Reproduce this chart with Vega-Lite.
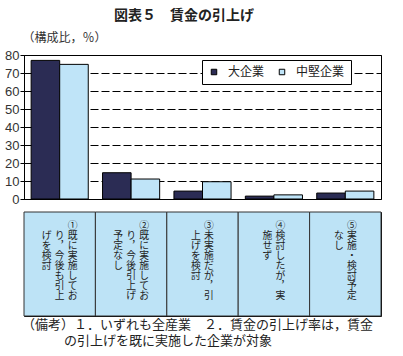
{
  "$schema": "https://vega.github.io/schema/vega-lite/v6.json",
  "padding": {"left": 4, "top": 8, "right": 5, "bottom": 5},
  "background": "white",
  "title": {"text": "図表５　賃金の引上げ", "font": "Noto Sans CJK JP", "fontSize": 14, "fontWeight": "bold", "color": "#222", "anchor": "middle", "dx": -9, "offset": 8},
  "config": {"view": {"stroke": "black", "strokeWidth": 1}, "font": "Noto Sans CJK JP"},
  "spacing": 4,
  "vconcat": [
    {
      "width": 357,
      "height": 144,
      "data": {"values": [
        {"cat": "1", "size": "大企業", "value": 77},
        {"cat": "1", "size": "中堅企業", "value": 74.8},
        {"cat": "2", "size": "大企業", "value": 14.6},
        {"cat": "2", "size": "中堅企業", "value": 11.1},
        {"cat": "3", "size": "大企業", "value": 4.4},
        {"cat": "3", "size": "中堅企業", "value": 9.6},
        {"cat": "4", "size": "大企業", "value": 1.6},
        {"cat": "4", "size": "中堅企業", "value": 2.3},
        {"cat": "5", "size": "大企業", "value": 3.3},
        {"cat": "5", "size": "中堅企業", "value": 4.4}
      ]},
      "mark": {"type": "bar", "stroke": "black", "strokeWidth": 1},
      "encoding": {
        "x": {"field": "cat", "type": "nominal", "scale": {"paddingInner": 0.2, "paddingOuter": 0.1}, "axis": null},
        "xOffset": {"field": "size", "type": "nominal", "sort": ["大企業", "中堅企業"], "scale": {"paddingInner": 0, "paddingOuter": 0}},
        "y": {
          "field": "value", "type": "quantitative",
          "scale": {"domain": [0, 80]},
          "axis": {
            "values": [0, 10, 20, 30, 40, 50, 60, 70, 80],
            "grid": true, "gridDash": [8, 3], "gridColor": "black", "gridWidth": 1,
            "domain": true, "domainColor": "black",
            "ticks": true, "tickSize": 4, "tickColor": "black",
            "labelFont": "Liberation Sans", "labelFontSize": 13, "labelColor": "#333", "labelPadding": 1,
            "title": "（構成比，％）", "titleAngle": 0, "titleAlign": "left", "titleBaseline": "middle",
            "titleX": -2, "titleY": -18, "titleFont": "Noto Sans CJK JP", "titleFontSize": 12,
            "titleFontWeight": "normal", "titleColor": "#333"
          }
        },
        "color": {
          "field": "size", "type": "nominal",
          "scale": {"domain": ["大企業", "中堅企業"], "range": ["#2b2c54", "#bfe4f8"]},
          "legend": {
            "orient": "none", "legendX": 178, "legendY": 5, "direction": "horizontal", "title": null,
            "fillColor": "white", "strokeColor": "black", "padding": 6,
            "symbolType": "square", "symbolSize": 30, "symbolStrokeColor": "black", "symbolStrokeWidth": 1,
            "labelFont": "Noto Sans CJK JP", "labelFontSize": 12, "labelColor": "#222", "labelOffset": 8,
            "columnPadding": 11
          }
        }
      }
    },
    {
      "width": 357,
      "height": 104,
      "title": {
        "text": ["（備考）１．いずれも全産業　２．賃金の引上げ率は，賃金", "\u200b　　　 の引上げを既に実施した企業が対象"],
        "orient": "bottom", "anchor": "start", "frame": "group", "dx": -2, "offset": 2,
        "fontSize": 13, "fontWeight": "normal", "lineHeight": 16, "font": "Noto Sans CJK JP", "color": "#222"
      },
      "layer": [
        {
          "data": {"values": [{"cat": "1"}, {"cat": "2"}, {"cat": "3"}, {"cat": "4"}, {"cat": "5"}]},
          "mark": {"type": "rect", "fill": "#bde3f6", "stroke": "#333", "strokeWidth": 1},
          "encoding": {
            "x": {"field": "cat", "type": "nominal", "scale": {"paddingInner": 0, "paddingOuter": 0}, "axis": null}
          }
        },
        {
          "data": {"values": [
            {"cat": "1", "col": 1, "row": 1, "ch": "①"},
            {"cat": "1", "col": 1, "row": 2, "ch": "既"},
            {"cat": "1", "col": 1, "row": 3, "ch": "に"},
            {"cat": "1", "col": 1, "row": 4, "ch": "実"},
            {"cat": "1", "col": 1, "row": 5, "ch": "施"},
            {"cat": "1", "col": 1, "row": 6, "ch": "し"},
            {"cat": "1", "col": 1, "row": 7, "ch": "て"},
            {"cat": "1", "col": 1, "row": 8, "ch": "お"},
            {"cat": "1", "col": 2, "row": 2, "ch": "り"},
            {"cat": "1", "col": 2, "row": 3, "ch": "︐"},
            {"cat": "1", "col": 2, "row": 4, "ch": "今"},
            {"cat": "1", "col": 2, "row": 5, "ch": "後"},
            {"cat": "1", "col": 2, "row": 6, "ch": "も"},
            {"cat": "1", "col": 2, "row": 7, "ch": "引"},
            {"cat": "1", "col": 2, "row": 8, "ch": "上"},
            {"cat": "1", "col": 3, "row": 2, "ch": "げ"},
            {"cat": "1", "col": 3, "row": 3, "ch": "を"},
            {"cat": "1", "col": 3, "row": 4, "ch": "検"},
            {"cat": "1", "col": 3, "row": 5, "ch": "討"},
            {"cat": "2", "col": 1, "row": 1, "ch": "②"},
            {"cat": "2", "col": 1, "row": 2, "ch": "既"},
            {"cat": "2", "col": 1, "row": 3, "ch": "に"},
            {"cat": "2", "col": 1, "row": 4, "ch": "実"},
            {"cat": "2", "col": 1, "row": 5, "ch": "施"},
            {"cat": "2", "col": 1, "row": 6, "ch": "し"},
            {"cat": "2", "col": 1, "row": 7, "ch": "て"},
            {"cat": "2", "col": 1, "row": 8, "ch": "お"},
            {"cat": "2", "col": 2, "row": 2, "ch": "り"},
            {"cat": "2", "col": 2, "row": 3, "ch": "︐"},
            {"cat": "2", "col": 2, "row": 4, "ch": "今"},
            {"cat": "2", "col": 2, "row": 5, "ch": "後"},
            {"cat": "2", "col": 2, "row": 6, "ch": "引"},
            {"cat": "2", "col": 2, "row": 7, "ch": "上"},
            {"cat": "2", "col": 2, "row": 8, "ch": "げ"},
            {"cat": "2", "col": 3, "row": 2, "ch": "予"},
            {"cat": "2", "col": 3, "row": 3, "ch": "定"},
            {"cat": "2", "col": 3, "row": 4, "ch": "な"},
            {"cat": "2", "col": 3, "row": 5, "ch": "し"}
          ]},
          "mark": {"type": "text", "font": "Noto Sans CJK JP", "fontSize": 9.8, "color": "#222", "align": "center", "baseline": "middle"},
          "encoding": {
            "x": {"field": "cat", "type": "nominal", "axis": null},
            "xOffset": {"field": "col", "type": "ordinal", "scale": {"type": "point", "domain": [3, 2, 1], "padding": 0, "range": [22.7, 48.7]}},
            "y": {"field": "row", "type": "ordinal", "scale": {"type": "point", "domain": [1, 2, 3, 4, 5, 6, 7, 8], "padding": 0, "range": [14, 84]}, "axis": null},
            "text": {"field": "ch", "type": "nominal"}
          }
        },
        {
          "data": {"values": [
            {"cat": "3", "col": 1, "row": 1, "ch": "③"},
            {"cat": "3", "col": 1, "row": 2, "ch": "未"},
            {"cat": "3", "col": 1, "row": 3, "ch": "実"},
            {"cat": "3", "col": 1, "row": 4, "ch": "施"},
            {"cat": "3", "col": 1, "row": 5, "ch": "だ"},
            {"cat": "3", "col": 1, "row": 6, "ch": "が"},
            {"cat": "3", "col": 1, "row": 7, "ch": "︐"},
            {"cat": "3", "col": 1, "row": 8, "ch": "引"},
            {"cat": "3", "col": 2, "row": 2, "ch": "上"},
            {"cat": "3", "col": 2, "row": 3, "ch": "げ"},
            {"cat": "3", "col": 2, "row": 4, "ch": "を"},
            {"cat": "3", "col": 2, "row": 5, "ch": "検"},
            {"cat": "3", "col": 2, "row": 6, "ch": "討"},
            {"cat": "4", "col": 1, "row": 1, "ch": "④"},
            {"cat": "4", "col": 1, "row": 2, "ch": "検"},
            {"cat": "4", "col": 1, "row": 3, "ch": "討"},
            {"cat": "4", "col": 1, "row": 4, "ch": "し"},
            {"cat": "4", "col": 1, "row": 5, "ch": "た"},
            {"cat": "4", "col": 1, "row": 6, "ch": "が"},
            {"cat": "4", "col": 1, "row": 7, "ch": "︐"},
            {"cat": "4", "col": 1, "row": 8, "ch": "実"},
            {"cat": "4", "col": 2, "row": 2, "ch": "施"},
            {"cat": "4", "col": 2, "row": 3, "ch": "せ"},
            {"cat": "4", "col": 2, "row": 4, "ch": "ず"},
            {"cat": "5", "col": 1, "row": 1, "ch": "⑤"},
            {"cat": "5", "col": 1, "row": 2, "ch": "実"},
            {"cat": "5", "col": 1, "row": 3, "ch": "施"},
            {"cat": "5", "col": 1, "row": 4, "ch": "・"},
            {"cat": "5", "col": 1, "row": 5, "ch": "検"},
            {"cat": "5", "col": 1, "row": 6, "ch": "討"},
            {"cat": "5", "col": 1, "row": 7, "ch": "予"},
            {"cat": "5", "col": 1, "row": 8, "ch": "定"},
            {"cat": "5", "col": 2, "row": 2, "ch": "な"},
            {"cat": "5", "col": 2, "row": 3, "ch": "し"}
          ]},
          "mark": {"type": "text", "font": "Noto Sans CJK JP", "fontSize": 9.8, "color": "#222", "align": "center", "baseline": "middle"},
          "encoding": {
            "x": {"field": "cat", "type": "nominal", "axis": null},
            "xOffset": {"field": "col", "type": "ordinal", "scale": {"type": "point", "domain": [2, 1], "padding": 0, "range": [29.2, 42.2]}},
            "y": {"field": "row", "type": "ordinal", "scale": {"type": "point", "domain": [1, 2, 3, 4, 5, 6, 7, 8], "padding": 0, "range": [14, 84]}, "axis": null},
            "text": {"field": "ch", "type": "nominal"}
          }
        }
      ],
      "resolve": {"scale": {"xOffset": "independent"}}
    }
  ]
}
